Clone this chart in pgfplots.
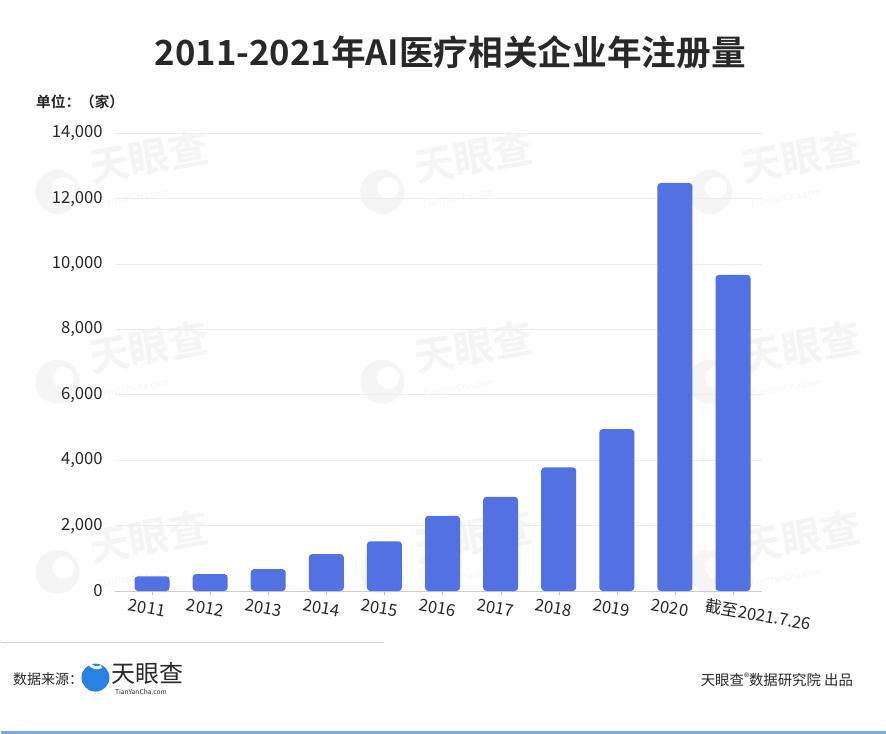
\documentclass[border=0pt]{standalone}
\usepackage{fontspec}
\setmainfont{Noto Sans CJK SC}[BoldFont={Noto Sans CJK SC Bold}]
\usepackage{pgfplots}
\pgfplotsset{compat=1.18}
\definecolor{barblue}{RGB}{82,114,228}
\definecolor{wmgray}{RGB}{245,245,245}
\definecolor{logoblue}{RGB}{40,130,225}
\definecolor{botblue}{RGB}{120,170,225}
\definecolor{txt}{RGB}{40,40,40}
\newcommand{\wm}[2]{%
  \fill[wmgray] (#1,#2) circle (22);
  \fill[white] (#1+6,#2-4) circle (11);
  \node[rotate=10, text=wmgray, font=\fontsize{30}{32}\selectfont\bfseries, anchor=west, inner sep=0pt] at (#1+32,#2-24) {天眼查};
  \node[rotate=10, text=wmgray, font=\fontsize{7}{8}\selectfont, anchor=west, inner sep=0pt] at (#1+40,#2+12) {TianYanCha.com};
}
\begin{document}
\begin{tikzpicture}
\begin{scope}[x=0.75pt,y=-0.75pt]
  \fill[white] (0,0) rectangle (886,734);
  \fill[botblue] (0,731) rectangle (886,734);
  \wm{57}{192}\wm{382}{192}\wm{710}{192}
  \wm{57}{382}\wm{382}{382}\wm{710}{382}
  \wm{57}{572}\wm{382}{572}\wm{710}{572}
  \node[font=\fontsize{26}{30}\selectfont\bfseries, text=txt] at (450,52) {2011-2021年AI医疗相关企业年注册量};
  \node[font=\fontsize{11}{13}\selectfont\bfseries, text=txt, anchor=west] at (31,102) {单位：（家）};
  \draw[gray!35, line width=0.75pt] (0,643) -- (384,643);
  \node[font=\fontsize{10.5}{12}\selectfont, text=txt, anchor=west] at (8,680) {数据来源：};
  \fill[logoblue] (95,678) circle (14);
  \draw[white, line width=2.2pt] (101,667) arc[start angle=60, end angle=230, radius=9];
  \node[font=\fontsize{18}{20}\selectfont, text=txt, anchor=west] at (106,674) {天眼查};
  \node[font=\fontsize{5}{6}\selectfont, text=txt, anchor=west] at (110,692) {TianYanCha.com};
  \node[font=\fontsize{10.8}{12}\selectfont, text=txt, anchor=west] at (696,680) {天眼查\raisebox{0.5ex}{\fontsize{8}{9}\selectfont ®}数据研究院 出品};
\end{scope}
\begin{axis}[
  at={(86.25pt,-443.5pt)}, anchor=south west,
  scale only axis, width=485.25pt, height=343.5pt,
  xmin=-0.63, xmax=10.5, ymin=0, ymax=14000,
  ybar, bar width=26.25pt,
  axis x line=bottom, axis y line=left,
  x axis line style={draw=gray!40, -},
  y axis line style={draw=none},
  ytick={0,2000,4000,6000,8000,10000,12000,14000},
  scaled y ticks=false,
  /pgf/number format/1000 sep={,},
  /pgf/number format/assume math mode=true,
  ymajorgrids, grid style={draw=gray!13, line width=0.6pt},
  y tick style={draw=none},
  x tick style={draw=gray!50},
  tick align=outside, major tick length=3pt,
  yticklabel style={font=\fontsize{12.5}{14}\selectfont, text=txt, xshift=-3pt},
  xtick={0,...,10},
  xticklabels={2011,2012,2013,2014,2015,2016,2017,2018,2019,2020,{\makebox[0pt][l]{\hspace{-17pt}截至2021.7.26}}},
  xticklabel style={font=\fontsize{12.5}{14}\selectfont, text=txt, rotate=-10, anchor=north, yshift=-2pt, xshift=-2pt},
  clip=false,
]
\addplot[fill=barblue, draw=none, rounded corners=2.5pt] coordinates {
(0,450) (1,520) (2,670) (3,1130) (4,1520) (5,2300) (6,2880) (7,3780) (8,4950) (9,12480) (10,9670)};
\end{axis}
\end{tikzpicture}
\end{document}
